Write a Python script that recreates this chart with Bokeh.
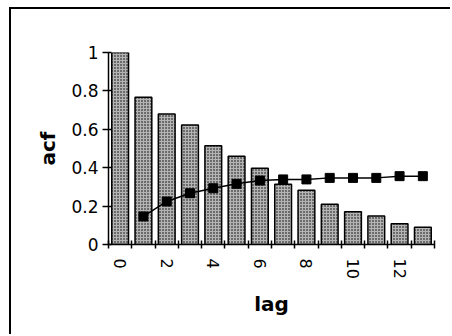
from bokeh.plotting import figure
from bokeh.models import FixedTicker, Range1d
from bokeh.embed import file_html
from bokeh.resources import INLINE

lags = list(range(14))
acf = [1.0, 0.767, 0.68, 0.623, 0.514, 0.46, 0.397, 0.314, 0.283, 0.21, 0.17, 0.149, 0.108, 0.09]
line_lags = list(range(1, 14))
line_vals = [0.146, 0.224, 0.267, 0.293, 0.316, 0.333, 0.339, 0.339, 0.347, 0.347, 0.347, 0.356, 0.356]
x_tick_vals = [0, 2, 4, 6, 8, 10, 12]
y_tick_vals = [0, 0.2, 0.4, 0.6, 0.8, 1.0]

p = figure(width=441, height=327, output_backend="svg", toolbar_location=None,
           x_range=Range1d(-0.5, 13.5), y_range=Range1d(0, 1),
           min_border_left=97, min_border_right=18, min_border_top=43, min_border_bottom=92)
p.styles = {"margin-left": "9px", "margin-top": "7px",
            "border-left": "2px solid black", "border-top": "2px solid black"}
p.outline_line_color = None
p.grid.visible = False

p.vbar(x=lags, top=acf, width=0.72, bottom=0, fill_color="#b4b4b4", line_color="black",
       line_width=1.5, hatch_pattern="dot", hatch_color="black", hatch_scale=3, hatch_weight=1.6)
p.line(x=line_lags, y=line_vals, line_color="black", line_width=1.5)
p.scatter(x=line_lags, y=line_vals, marker="square", size=9, fill_color="black", line_color="black")

font = "DejaVu Sans"
xa = p.xaxis[0]
xa.ticker = FixedTicker(ticks=x_tick_vals, minor_ticks=[i - 0.5 for i in range(15)])
xa.major_tick_line_color = None
xa.minor_tick_in = 4
xa.minor_tick_out = 4
xa.minor_tick_line_width = 1.5
xa.axis_line_width = 1.5
xa.major_label_orientation = "vertical"
xa.major_label_standoff = 8
xa.major_label_text_font = font
xa.major_label_text_font_size = "16px"
xa.major_label_text_color = "black"
xa.axis_label = "lag"
xa.axis_label_text_font = font
xa.axis_label_text_font_size = "20px"
xa.axis_label_text_font_style = "bold"
xa.axis_label_text_color = "black"
xa.axis_label_standoff = 10

ya = p.yaxis[0]
ya.ticker = FixedTicker(ticks=y_tick_vals)
ya.major_tick_in = 3
ya.major_tick_out = 6
ya.major_tick_line_width = 1.5
ya.axis_line_width = 1.5
ya.minor_tick_line_color = None
ya.major_label_text_font = font
ya.major_label_text_font_size = "17px"
ya.major_label_text_color = "black"
ya.major_label_standoff = 4
ya.axis_label = "acf"
ya.axis_label_text_font = font
ya.axis_label_text_font_size = "20px"
ya.axis_label_text_font_style = "bold"
ya.axis_label_text_color = "black"
ya.axis_label_standoff = 8

open("out.html", "w").write(file_html(p, INLINE))
